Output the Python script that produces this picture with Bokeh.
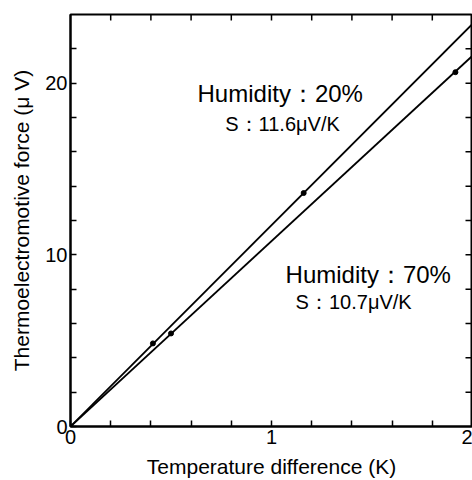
import math
from bokeh.plotting import figure
from bokeh.models import Range1d, FixedTicker, Label
from bokeh.embed import file_html
from bokeh.resources import INLINE

# --- data ---
h20_x = [0.0, 0.41, 1.16]
h20_y = [0.0, 4.84, 13.6]
h70_x = [0.0, 0.50, 1.915]
h70_y = [0.0, 5.42, 20.64]
fit20_x = [0.0, 2.0]
fit20_y = [0.0, 23.45]
fit70_x = [0.0, 2.0]
fit70_y = [0.0, 21.6]

x_min, x_max = 0, 2
y_min, y_max = 0, 24
x_major = [0, 1, 2]
x_minor = [0.2, 0.4, 0.6, 0.8, 1.2, 1.4, 1.6, 1.8]
y_major = [0, 10, 20]
y_minor = [2, 4, 6, 8, 12, 14, 16, 18, 22]
x_top = [0.2, 0.4, 0.6, 0.8, 1.0, 1.2, 1.4, 1.6, 1.8]
y_right = [2, 4, 6, 8, 10, 12, 14, 16, 18, 20, 22]

FONT = "Liberation Sans"

p = figure(width=472, height=480, x_range=Range1d(x_min, x_max), y_range=Range1d(y_min, y_max),
           output_backend="svg", toolbar_location=None,
           min_border_left=70, min_border_right=0, min_border_top=14, min_border_bottom=54)
p.xgrid.visible = False
p.ygrid.visible = False
p.outline_line_color = "black"
p.outline_line_width = 2
p.background_fill_color = "white"
p.border_fill_color = "white"

for ax in [p.xaxis[0], p.yaxis[0]]:
    ax.axis_line_width = 2
    ax.axis_line_color = "black"
    ax.major_tick_in = 6
    ax.major_tick_out = 0
    ax.minor_tick_in = 6
    ax.minor_tick_out = 0
    ax.major_tick_line_width = 1.5
    ax.minor_tick_line_width = 1.5
    ax.major_label_text_font = FONT
    ax.major_label_text_font_size = "20px"
    ax.major_label_text_color = "black"
    ax.axis_label_text_font = FONT
    ax.axis_label_text_font_style = "normal"
    ax.axis_label_text_color = "black"

p.xaxis[0].axis_label_text_font_size = "21px"
p.yaxis[0].axis_label_text_font_size = "21px"
p.xaxis[0].ticker = FixedTicker(ticks=x_major, minor_ticks=x_minor)
p.yaxis[0].ticker = FixedTicker(ticks=y_major, minor_ticks=y_minor)
p.xaxis[0].axis_label = "Temperature difference (K)"
p.yaxis[0].axis_label = "Thermoelectromotive force (\u03bc V)"
p.xaxis[0].major_label_standoff = 3
p.yaxis[0].major_label_standoff = 3
p.xaxis[0].axis_label_standoff = 8
p.yaxis[0].axis_label_standoff = 9

# inward ticks on the top and right frame edges
p.ray(x=x_top, y=[y_max] * len(x_top), angle=-math.pi / 2, length=6,
      length_units="screen", line_color="black", line_width=1.5)
p.ray(x=[x_max] * len(y_right), y=y_right, angle=math.pi, length=7,
      length_units="screen", line_color="black", line_width=1.5)

p.line(fit20_x, fit20_y, line_color="black", line_width=1.8)
p.line(fit70_x, fit70_y, line_color="black", line_width=1.8)
p.scatter(h20_x, h20_y, size=5, color="black")
p.scatter(h70_x, h70_y, size=5, color="black")

labels = [
    (0.632, 19.4, "Humidity\uff1a20%", "24px"),
    (0.77, 17.6, "S\uff1a11.6\u03bcV/K", "20px"),
    (1.07, 8.86, "Humidity\uff1a70%", "24px"),
    (1.12, 7.23, "S\uff1a10.7\u03bcV/K", "20px"),
]
for x, y, t, fs in labels:
    p.add_layout(Label(x=x, y=y, text=t, text_font=FONT, text_font_size=fs,
                       text_baseline="middle", text_align="left", text_color="black"))

open("out.html", "w").write(file_html(p, INLINE))
